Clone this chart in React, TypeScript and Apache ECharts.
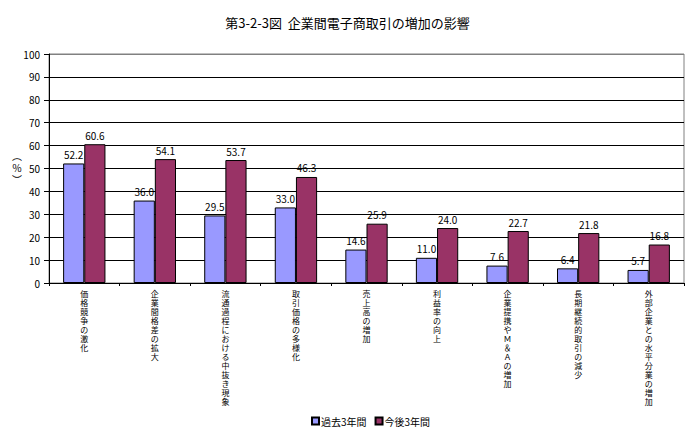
import React, { useEffect, useRef } from "react";
import * as echarts from "echarts";

const categories = [
  "価格競争の激化",
  "企業間格差の拡大",
  "流通過程における中抜き現象",
  "取引価格の多様化",
  "売上高の増加",
  "利益率の向上",
  "企業提携やＭ＆Ａの増加",
  "長期継続的取引の減少",
  "外部企業との水平分業の増加",
];
const past3 = [52.2, 36.0, 29.5, 33.0, 14.6, 11.0, 7.6, 6.4, 5.7];
const next3 = [60.6, 54.1, 53.7, 46.3, 25.9, 24.0, 22.7, 21.8, 16.8];
const seriesNames = ["過去3年間", "今後3年間"];
const titleText = "第3-2-3図  企業間電子商取引の増加の影響";

const FONT = "'Noto Sans CJK JP', 'Noto Sans', sans-serif";
const VFONT = "'Liberation Sans', 'Noto Sans CJK JP', sans-serif";

export default function App() {
  const ref = useRef<HTMLDivElement>(null);
  useEffect(() => {
    if (!ref.current) return;
    const chart = echarts.init(ref.current, null, { renderer: "svg" });
    const gridColors = Array.from({ length: 11 }, (_, i) => (i === 10 ? "#808080" : "#000000"));
    const labelCfg = {
      show: true,
      position: "top" as const,
      distance: 4,
      color: "#000",
      fontSize: 10,
      fontFamily: FONT,
      formatter: (p: any) => Number(p.value).toFixed(1),
    };
    chart.setOption({
      animation: false,
      backgroundColor: "#ffffff",
      textStyle: { fontFamily: FONT },
      title: {
        text: titleText,
        left: "center",
        top: 11,
        textStyle: { fontSize: 13, fontWeight: "normal", color: "#000", fontFamily: FONT },
      },
      grid: {
        left: 49,
        right: 11,
        top: 54,
        bottom: 150,
        show: true,
        borderColor: "#808080",
        borderWidth: 1,
        containLabel: false,
      },
      legend: {
        left: 306,
        top: 411,
        itemWidth: 7,
        itemHeight: 7,
        itemGap: 8,
        icon: "rect",
        textStyle: { fontSize: 10, color: "#000", fontFamily: FONT, padding: [0, 0, 0, -3] },
        data: seriesNames,
      },
      xAxis: {
        type: "category",
        data: categories,
        axisLine: { lineStyle: { color: "#000", width: 1 } },
        axisTick: { show: true, length: 3, lineStyle: { color: "#000" } },
        axisLabel: {
          interval: 0,
          margin: 7,
          fontSize: 8,
          lineHeight: 9,
          color: "#000",
          fontFamily: VFONT,
          formatter: (v: string) => v.split("").join("\n"),
        },
      },
      yAxis: {
        type: "value",
        min: 0,
        max: 100,
        interval: 10,
        axisLine: { show: true, lineStyle: { color: "#000", width: 1 } },
        axisTick: { show: true, length: 5, inside: false, lineStyle: { color: "#000" } },
        axisLabel: { fontSize: 10, color: "#000", margin: 9, fontFamily: FONT },
        splitLine: { show: true, lineStyle: { color: gridColors, width: 1 } },
      },
      graphic: [
        {
          type: "text",
          left: 12,
          top: 150,
          style: {
            text: "︵\n％\n︶",
            fontSize: 10,
            lineHeight: 12,
            fill: "#000",
            fontFamily: VFONT,
            align: "center",
          },
        },
      ],
      series: [
        {
          name: seriesNames[0],
          type: "bar",
          data: past3,
          barGap: "0%",
          barCategoryGap: "40%",
          itemStyle: { color: "#9999FF", borderColor: "#000", borderWidth: 1 },
          label: labelCfg,
        },
        {
          name: seriesNames[1],
          type: "bar",
          data: next3,
          barGap: "0%",
          barCategoryGap: "40%",
          itemStyle: { color: "#993366", borderColor: "#000", borderWidth: 1 },
          label: labelCfg,
        },
      ],
    });
    return () => chart.dispose();
  }, []);
  return (
    <div
      ref={ref}
      style={{ position: "fixed", left: 0, top: 0, width: 695, height: 433, background: "#fff" }}
    />
  );
}
